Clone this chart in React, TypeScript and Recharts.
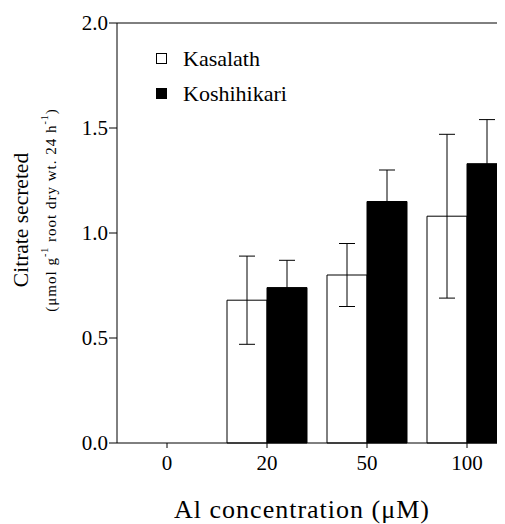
import { BarChart, Bar, XAxis, YAxis, ErrorBar, ReferenceLine } from "recharts";

const categories = ["0", "20", "50", "100"];
const kasalath = [0, 0.68, 0.8, 1.08];
const kasalathErr = [0, 0.21, 0.15, 0.39];
const koshihikari = [0, 0.74, 1.15, 1.33];
const koshihikariErr = [0, 0.13, 0.15, 0.21];
const yTicks = [0, 0.5, 1.0, 1.5, 2.0];
const seriesNames = ["Kasalath", "Koshihikari"];
const seriesFills = ["#fff", "#000"];

const data = categories.map((c, i) => ({
  name: c,
  kasalath: kasalath[i],
  kasalathErr: kasalathErr[i],
  koshihikari: koshihikari[i],
  koshihikariErr: koshihikariErr[i],
}));

const serif = "Liberation Serif";

const YTitle = (props: any) => {
  const vb = props.viewBox;
  const cy = vb.y + vb.height / 2;
  const y1 = cy - 13;
  const y2 = cy - 23;
  return (
    <g fontFamily={serif} fill="#000">
      <text x={13} y={y1} transform={`rotate(-90, 13, ${y1})`} textAnchor="middle" dominantBaseline="central" fontSize={21.5}>
        Citrate secreted
      </text>
      <text x={43} y={y2} transform={`rotate(-90, 43, ${y2})`} textAnchor="middle" dominantBaseline="central" fontSize={15} letterSpacing={1}>
        (μmol g
        <tspan fontSize={10} dy={-7}>-1</tspan>
        <tspan dy={7}> root dry wt. 24 h</tspan>
        <tspan fontSize={10} dy={-7}>-1</tspan>
        <tspan dy={7}>)</tspan>
      </text>
    </g>
  );
};

const XTitle = (props: any) => {
  const vb = props.viewBox;
  return (
    <text x={vb.x + vb.width / 2 - 15} y={vb.y + vb.height - 6} textAnchor="middle" fontFamily={serif} fontSize={26} letterSpacing={1} fill="#000">
      Al concentration (μM)
    </text>
  );
};

export default function App() {
  return (
    <div style={{ position: "relative", width: 497, height: 516, overflow: "hidden", background: "#fff" }}>
      <BarChart
        width={520}
        height={516}
        data={data}
        margin={{ top: 15, right: 11, left: 0, bottom: 0 }}
        barGap={0}
        barCategoryGap="10%"
      >
        <XAxis
          dataKey="name"
          height={81}
          stroke="#000"
          tickLine={{ stroke: "#000" }}
          tickSize={5}
          tickMargin={7}
          tick={{ fill: "#000", fontFamily: serif, fontSize: 21 }}
          label={{ content: XTitle }}
        />
        <YAxis
          width={109}
          domain={[0, 2]}
          ticks={yTicks}
          stroke="#000"
          tickSize={8}
          tickMargin={1}
          tickFormatter={(v: number) => v.toFixed(1)}
          tick={{ fill: "#000", fontFamily: serif, fontSize: 21 }}
          label={{ content: YTitle }}
        />
        <ReferenceLine y={2} stroke="#000" />
        <Bar dataKey="kasalath" fill="#fff" stroke="#000" strokeWidth={1} isAnimationActive={false}>
          <ErrorBar dataKey="kasalathErr" width={8} stroke="#000" strokeWidth={1} direction="y" />
        </Bar>
        <Bar dataKey="koshihikari" fill="#000" stroke="#000" strokeWidth={1} isAnimationActive={false}>
          <ErrorBar dataKey="koshihikariErr" width={8} stroke="#000" strokeWidth={1} direction="y" />
        </Bar>
      </BarChart>
      <div style={{ position: "absolute", left: 148, top: 33, fontFamily: serif, fontSize: 22, color: "#000" }}>
        {seriesNames.map((name, i) => (
          <div key={name} style={{ display: "flex", alignItems: "center", height: 35 }}>
            <span style={{ width: 9, height: 9, border: "1px solid #000", background: seriesFills[i], marginRight: 16 }} />
            {name}
          </div>
        ))}
      </div>
    </div>
  );
}
